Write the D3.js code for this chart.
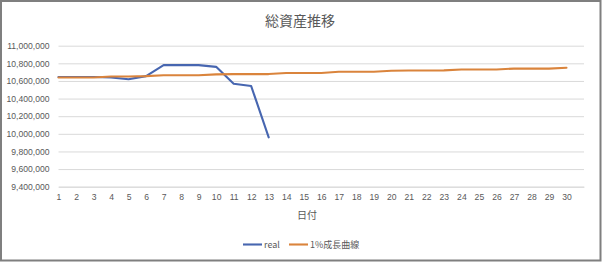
<!DOCTYPE html>
<html>
<head>
<meta charset="utf-8">
<script src="https://cdn.jsdelivr.net/npm/d3@7"></script>
<style>
  body { margin: 0; background: #fff; }
  svg { display: block; font-family: "Noto Sans CJK JP", "Noto Sans", sans-serif; }
</style>
</head>
<body>
<div id="chart"></div>
<script>
// data
const days = d3.range(1, 31);
const realValues = [10645000, 10645000, 10645000, 10640000, 10620000, 10655000, 10780000, 10780000, 10780000, 10760000, 10568000, 10542000, 9960000];
const growthValues = [10640000, 10640000, 10640000, 10650000, 10650000, 10655000, 10665000, 10665000, 10665000, 10675000,
  10678000, 10678000, 10678000, 10690000, 10690000, 10690000, 10705000, 10705000, 10705000, 10715000,
  10718000, 10718000, 10720000, 10730000, 10730000, 10730000, 10740000, 10740000, 10740000, 10750000];
const yTicks = [9400000, 9600000, 9800000, 10000000, 10200000, 10400000, 10600000, 10800000, 11000000];
const seriesNames = ["real", "1%成長曲線"];
const colors = ["#4766B0", "#DA843C"];

const W = 602, H = 262;
const plot = {left: 58.5, right: 584, top: 45.7, bottom: 186.7};

const svg = d3.select("#chart").append("svg")
  .attr("width", W)
  .attr("height", H);

svg.append("rect")
  .attr("x", 1).attr("y", 1)
  .attr("width", W - 2.5).attr("height", H - 2.5)
  .attr("fill", "#fff")
  .attr("stroke", "#7f7f7f")
  .attr("stroke-width", 2);

// title
svg.append("text")
  .attr("x", 300).attr("y", 26)
  .attr("text-anchor", "middle")
  .attr("font-size", 14)
  .attr("fill", "#595959")
  .text("総資産推移");

// 31 slots on the axis, last one unlabeled
const xScale = d3.scaleLinear().domain([1, 31]).range([plot.left, plot.right]);
const yScale = d3.scaleLinear().domain([9400000, 11000000]).range([plot.bottom, plot.top]);

// gridlines
const yAxis = d3.axisLeft(yScale)
  .tickValues(yTicks)
  .tickSize(-(plot.right - plot.left))
  .tickPadding(9)
  .tickFormat(d3.format(","));

const yAxisG = svg.append("g")
  .attr("transform", `translate(${plot.left},0)`)
  .call(yAxis);
yAxisG.select(".domain").remove();
yAxisG.selectAll(".tick line").attr("stroke", "#d9d9d9").attr("stroke-width", 1);
yAxisG.selectAll(".tick text")
  .attr("fill", "#595959")
  .attr("font-size", 8.6)
  .attr("font-family", "'Liberation Sans', sans-serif");

const xAxis = d3.axisBottom(xScale)
  .tickValues(days)
  .tickSize(0)
  .tickPadding(7)
  .tickFormat(d3.format("d"));

const xAxisG = svg.append("g")
  .attr("transform", `translate(0,${plot.bottom})`)
  .call(xAxis);
xAxisG.select(".domain").attr("stroke", "#d9d9d9");
xAxisG.selectAll(".tick text")
  .attr("fill", "#595959")
  .attr("font-size", 8.6)
  .attr("font-family", "'Liberation Sans', sans-serif");

// x axis title
svg.append("text")
  .attr("x", 307).attr("y", 219)
  .attr("text-anchor", "middle")
  .attr("font-size", 10)
  .attr("fill", "#595959")
  .text("日付");

const line = d3.line()
  .x((d, i) => xScale(days[i]))
  .y(d => yScale(d));

[realValues, growthValues].forEach((vals, k) => {
  svg.append("path")
    .datum(vals)
    .attr("fill", "none")
    .attr("stroke", colors[k])
    .attr("stroke-width", 2.1)
    .attr("stroke-linejoin", "round")
    .attr("stroke-linecap", "round")
    .attr("d", line);
});

// legend
const legendX = [243, 289];
seriesNames.forEach((name, k) => {
  const g = svg.append("g").attr("transform", `translate(${legendX[k]},244.5)`);
  g.append("line")
    .attr("x1", 0).attr("x2", 19)
    .attr("stroke", colors[k])
    .attr("stroke-width", 2.1);
  g.append("text")
    .attr("x", 21).attr("y", 3.5)
    .attr("font-size", 9)
    .attr("fill", "#595959")
    .text(name);
});
</script>
</body>
</html>
